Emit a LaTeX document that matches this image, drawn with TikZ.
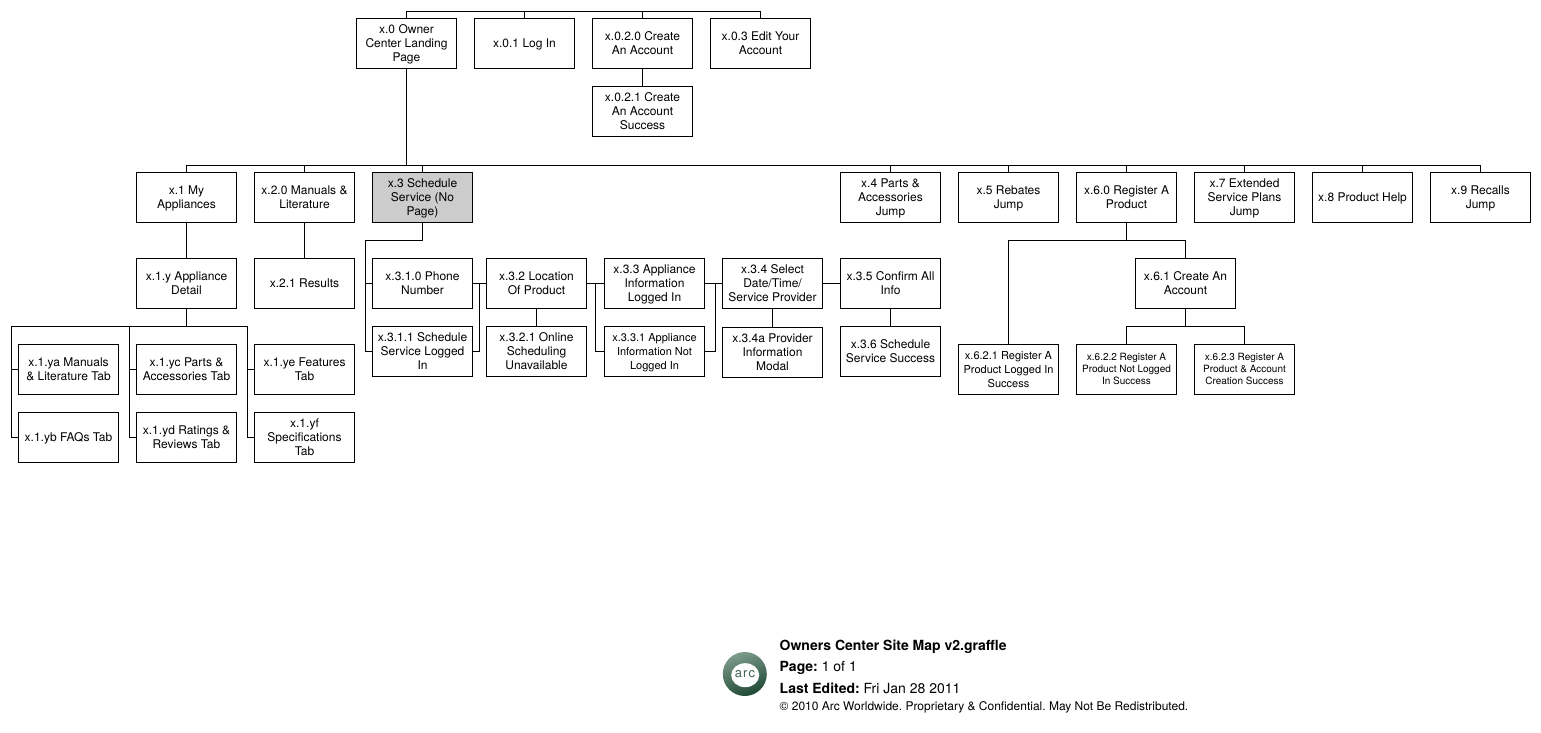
\documentclass[tikz,border=0pt]{standalone}
\usepackage{fontspec}
\setmainfont{TeX Gyre Heros}
\frenchspacing
\definecolor{logodark}{RGB}{30,72,52}
\definecolor{logolight}{RGB}{125,155,140}
\newcommand{\T}{\rule{0pt}{0.88em}}
\newcommand{\botstrut}{\rule[-0.21em]{0pt}{0pt}}
\tikzset{
  pagebox/.style={draw=black,line width=1pt,fill=white,minimum width=100pt,minimum height=50pt,inner sep=0pt,outer sep=0pt,align=center,anchor=north west,font=\fontsize{12}{14}\selectfont,execute at end node=\botstrut},
  smallbox/.style={pagebox,font=\fontsize{11}{14}\selectfont},
  tinybox/.style={pagebox,font=\fontsize{10}{12}\selectfont},
  nopage/.style={pagebox,fill=black!20},
  link/.style={draw=black,line width=1pt},
  foot/.style={anchor=west,inner sep=0pt,font=\fontsize{14}{16}\selectfont},
  footsmall/.style={anchor=west,inner sep=0pt,font=\fontsize{12}{14}\selectfont}
}
\begin{document}
\begin{tikzpicture}[x=1pt,y=-1pt]
\useasboundingbox (0,0) rectangle (1541,733);
% top row
\node[pagebox] (x0) at (356.5,18.5) {\T x.0 Owner\\Center Landing\\Page};
\node[pagebox] (x01) at (474.5,18.5) {\T x.0.1 Log In};
\node[pagebox] (x020) at (592.5,18.5) {\T x.0.2.0 Create\\An Account};
\node[pagebox] (x03) at (710.5,18.5) {\T x.0.3 Edit Your\\Account};
\node[pagebox] (x021) at (592.5,86.5) {\T x.0.2.1 Create\\An Account\\Success};
% second row
\node[pagebox] (x1) at (136.5,172.5) {\T x.1 My\\Appliances};
\node[pagebox] (x20) at (254.5,172.5) {\T x.2.0 Manuals \&\\Literature};
\node[nopage] (x3) at (372.5,172.5) {\T x.3 Schedule\\Service (No\\Page)};
\node[pagebox] (x4) at (840.5,172.5) {\T x.4 Parts \&\\Accessories\\Jump};
\node[pagebox] (x5) at (958.5,172.5) {\T x.5 Rebates\\Jump};
\node[pagebox] (x60) at (1076.5,172.5) {\T x.6.0 Register A\\Product};
\node[pagebox] (x7) at (1194.5,172.5) {\T x.7 Extended\\Service Plans\\Jump};
\node[pagebox] (x8) at (1312.5,172.5) {\T x.8 Product Help};
\node[pagebox] (x9) at (1430.5,172.5) {\T x.9 Recalls\\Jump};
% third row
\node[pagebox] (x1y) at (136.5,258.5) {\T x.1.y Appliance\\Detail};
\node[pagebox] (x21) at (254.5,258.5) {\T x.2.1 Results};
\node[pagebox] (x310) at (372.5,258.5) {\T x.3.1.0 Phone\\Number};
\node[pagebox] (x32) at (486.5,258.5) {\T x.3.2 Location\\Of Product};
\node[pagebox] (x33) at (604.5,258.5) {\T x.3.3 Appliance\\Information\\Logged In};
\node[pagebox] (x34) at (722.5,258.5) {\T x.3.4 Select\\Date/Time/\\Service Provider};
\node[pagebox] (x35) at (840.5,258.5) {\T x.3.5 Confirm All\\Info};
\node[pagebox] (x61) at (1135.5,258.5) {\T x.6.1 Create An\\Account};
% fourth row
\node[pagebox] (x311) at (372.5,326.5) {\T x.3.1.1 Schedule\\Service Logged\\In};
\node[pagebox] (x321) at (486.5,326.5) {\T x.3.2.1 Online\\Scheduling\\Unavailable};
\node[smallbox] (x331) at (604.5,326.5) {\T x.3.3.1 Appliance\\Information Not\\Logged In};
\node[pagebox] (x34a) at (722.5,327) {\T x.3.4a Provider\\Information\\Modal};
\node[pagebox] (x36) at (840.5,326.5) {\T x.3.6 Schedule\\Service Success};
% tabs
\node[pagebox] (x1ya) at (18.5,344.5) {\T x.1.ya Manuals\\\& Literature Tab};
\node[pagebox] (x1yc) at (136.5,344.5) {\T x.1.yc Parts \&\\Accessories Tab};
\node[pagebox] (x1ye) at (254.5,344.5) {\T x.1.ye Features\\Tab};
\node[pagebox] (x1yb) at (18.5,412.5) {\T x.1.yb FAQs Tab};
\node[pagebox] (x1yd) at (136.5,412.5) {\T x.1.yd Ratings \&\\Reviews Tab};
\node[pagebox] (x1yf) at (254.5,412.5) {\T x.1.yf\\Specifications\\Tab};
% register
\node[smallbox] (x621) at (958.5,344.5) {\T x.6.2.1 Register A\\Product Logged In\\Success};
\node[tinybox] (x622) at (1076.5,344.5) {\T x.6.2.2 Register A\\Product Not Logged\\In Success};
\node[tinybox] (x623) at (1194.5,344.5) {\T x.6.2.3 Register A\\Product \& Account\\Creation Success};
% bus levels
\coordinate (topbus) at (0,11.5);
\coordinate (mainbus) at (0,165.5);
\coordinate (tabbus) at (0,326.5);
\coordinate (elbow) at (0,240.5);
\coordinate (tabA) at (11.5,326.5);
\coordinate (tabB) at (129.5,326.5);
\coordinate (tabC) at (247.5,326.5);
\coordinate (railA) at (365.5,240.5);
\coordinate (railB) at (479.5,300);
\coordinate (railC) at (595.5,300);
\coordinate (railD) at (715.5,300);
% connectors
\draw[link] (x0.north) |- (x03.north |- topbus) -- (x03.north);
\draw[link] (x01.north) -- (x01.north |- topbus);
\draw[link] (x020.north) -- (x020.north |- topbus);
\draw[link] (x020) -- (x021);
\draw[link] (x0.south) -- (x0.south |- mainbus);
\draw[link] (x1.north) |- (x9.north |- mainbus) -- (x9.north);
\foreach \n in {x20,x3,x4,x5,x60,x7,x8}
  \draw[link] (\n.north) -- (\n.north |- mainbus);
\draw[link] (x1) -- (x1y);
\draw[link] (x20) -- (x21);
\draw[link] (x1y.south) -- (x1y.south |- tabbus);
\draw[link] (x1ya.west) -| (tabA) -- (tabC) |- (x1yf.west);
\draw[link] (x1yb.west) -| (tabA);
\draw[link] (x1yc.west) -| (tabB);
\draw[link] (x1yd.west) -| (tabB);
\draw[link] (x1ye.west) -| (tabC);
\draw[link] (x3.south) |- (railA) |- (x311.west);
\draw[link] (x310.west) -| (railA);
\draw[link] (x310.east) -- (x32.west);
\draw[link] (x311.east) -| (railB |- x310.east);
\draw[link] (x32) -- (x321);
\draw[link] (x32.east) -- (x33.west);
\draw[link] (railC |- x33.west) |- (x331.west);
\draw[link] (x33.east) -- (x34.west);
\draw[link] (x331.east) -| (railD |- x33.east);
\draw[link] (x34) -- (x34a);
\draw[link] (x34.east) -- (x35.west);
\draw[link] (x35) -- (x36);
\draw[link] (x60.south) -- (x60.south |- elbow);
\draw[link] (x621.north) |- (x61.north |- elbow) -- (x61.north);
\draw[link] (x61.south) -- (x61.south |- tabbus);
\draw[link] (x622.north) |- (x623.north |- tabbus) -- (x623.north);
% logo
\shade[left color=logolight,right color=logodark,shading angle=20] (744.8,674) circle (22);
\fill[white] (745.2,675.2) ellipse (14 and 12);
\node[inner sep=0pt,text=logodark!85!white,font=\fontsize{13}{14}\selectfont\addfontfeatures{LetterSpace=8}] (logotext) at (745,674) {arc};
% footer
\node[foot] (ftitle) at (779.5,646.7) {\textbf{Owners Center Site Map v2.graffle}};
\node[foot] (fpage) at (779.5,667.7) {\textbf{Page:} 1 of 1};
\node[foot] (fedit) at (779.5,688.3) {\textbf{Last Edited:} Fri Jan 28 2011};
\node[footsmall] (fcopy) at (779.5,707.7) {© 2010 Arc Worldwide. Proprietary \& Confidential. May Not Be Redistributed.};
\end{tikzpicture}
\end{document}
